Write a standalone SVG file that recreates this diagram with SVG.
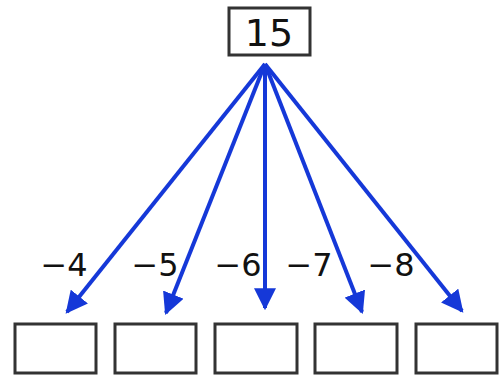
<svg xmlns="http://www.w3.org/2000/svg" width="499" height="376" viewBox="0 0 499 376">
<style>
.box{fill:#fff;stroke:#333;stroke-width:3}
.lbl{font-family:"DejaVu Sans",sans-serif;font-size:32px;fill:#111;text-anchor:middle}
.arr{stroke:#1538d8;stroke-width:4;fill:none;marker-end:url(#ah)}
</style>
<defs>
<marker id="ah" viewBox="0 0 10 10" refX="9" refY="5" markerWidth="5.5" markerHeight="5.5" orient="auto" markerUnits="strokeWidth">
<path d="M0,0 L10,5 L0,10 Z" fill="#1538d8"/>
</marker>
</defs>
<rect width="499" height="376" fill="#fff"/>
<g id="top"><rect class="box" x="229" y="8" width="81" height="47"/><text class="lbl" x="269" y="46" style="font-size:38px">15</text></g>
<g id="connectors">
<path class="arr" d="M265,64 L67,312"/>
<path class="arr" d="M265,64 L166,313"/>
<path class="arr" d="M265,64 L265,308"/>
<path class="arr" d="M265,64 L362,312"/>
<path class="arr" d="M265,64 L462,311"/>
</g>
<g id="labels">
<text class="lbl" x="64" y="276">−4</text>
<text class="lbl" x="155" y="276">−5</text>
<text class="lbl" x="238" y="276">−6</text>
<text class="lbl" x="309" y="276">−7</text>
<text class="lbl" x="391" y="276">−8</text>
</g>
<g id="b1"><rect class="box" x="15" y="324" width="81" height="49"/></g>
<g id="b2"><rect class="box" x="115" y="324" width="81" height="49"/></g>
<g id="b3"><rect class="box" x="215" y="324" width="82" height="49"/></g>
<g id="b4"><rect class="box" x="315" y="324" width="82" height="49"/></g>
<g id="b5"><rect class="box" x="416" y="324" width="81" height="49"/></g>
</svg>
